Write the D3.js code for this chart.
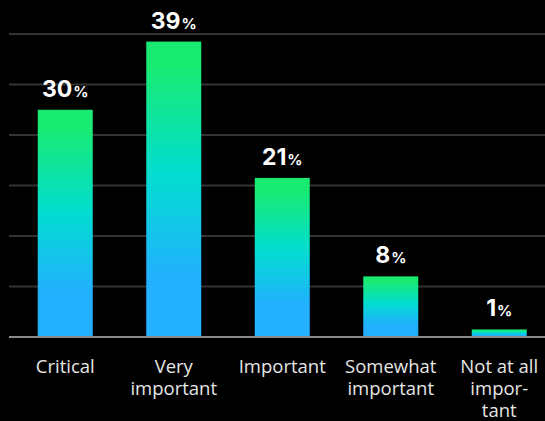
<html>
<head>
<style>
  body { margin:0; background:#000; }
  .grid line { stroke:#333; stroke-width:2; }
  .base { stroke:#8a8a8a; stroke-width:2; }
  .val { fill:#fff; font-family:Inter, sans-serif; font-weight:700; }
  .cat { fill:#e6e6e6; font-family:"Open Sans", sans-serif; font-size:18.5px; }
</style>
</head>
<body>
<script src="https://cdn.jsdelivr.net/npm/d3@7"></script>
<script>
var width = 545, height = 421;

// data
var categories = ["Critical", "Very important", "Important", "Somewhat important", "Not at all important"];
var catLines = [["Critical"], ["Very", "important"], ["Important"], ["Somewhat", "important"], ["Not at all", "impor-", "tant"]];
var values = [30, 39, 21, 8, 1];
var gridTicks = [0, 1, 2, 3, 4, 5, 6].map(function(k){ return k * 40 / 6; });

var svg = d3.select("body").append("svg")
    .attr("width", width)
    .attr("height", height);

var grad = svg.append("defs").append("linearGradient")
    .attr("id", "barGrad")
    .attr("x1", 0).attr("y1", 0).attr("x2", 0).attr("y2", 1);
grad.append("stop").attr("offset", "0.08").attr("stop-color", "#19eb72");
grad.append("stop").attr("offset", "0.45").attr("stop-color", "#02ddd0");
grad.append("stop").attr("offset", "0.8").attr("stop-color", "#22b0ff");

var x = d3.scaleBand()
    .domain(categories)
    .range([11, 553.5])
    .paddingInner(0.493)
    .paddingOuter(0.2465);

var y = d3.scaleLinear()
    .domain([0, 40])
    .range([337, 34]);

// gridlines
svg.append("g").attr("class", "grid")
  .selectAll("line")
  .data(gridTicks.slice(1))
  .enter().append("line")
    .attr("x1", 9).attr("x2", width)
    .attr("y1", function(d){ return y(d); })
    .attr("y2", function(d){ return y(d); });

// bars
svg.selectAll("rect.bar")
  .data(values)
  .enter().append("rect")
    .attr("class", "bar")
    .attr("x", function(d, i){ return x(categories[i]); })
    .attr("width", x.bandwidth())
    .attr("y", function(d){ return y(d); })
    .attr("height", function(d){ return y(0) - y(d); })
    .attr("fill", "url(#barGrad)");

svg.append("line").attr("class", "base")
    .attr("x1", 9).attr("x2", width)
    .attr("y1", y(0)).attr("y2", y(0));

// value labels
var lab = svg.selectAll("text.val")
  .data(values)
  .enter().append("text")
    .attr("class", "val")
    .attr("text-anchor", "middle")
    .attr("x", function(d, i){ return x(categories[i]) + x.bandwidth() / 2; })
    .attr("y", function(d){ return y(d) - 13; });
lab.append("tspan").attr("font-size", 23).text(function(d){ return d; });
lab.append("tspan").attr("font-size", 15).attr("dx", 1).text("%");

// category labels
var cat = svg.selectAll("text.cat")
  .data(catLines)
  .enter().append("text")
    .attr("class", "cat")
    .attr("text-anchor", "middle")
    .attr("x", function(d, i){ return x(categories[i]) + x.bandwidth() / 2; })
    .attr("y", 373);
cat.selectAll("tspan")
  .data(function(d){ return d; })
  .enter().append("tspan")
    .attr("x", function(){ return d3.select(this.parentNode).attr("x"); })
    .attr("dy", function(d, j){ return j ? 22 : 0; })
    .text(function(d){ return d; });
</script>
</body>
</html>
